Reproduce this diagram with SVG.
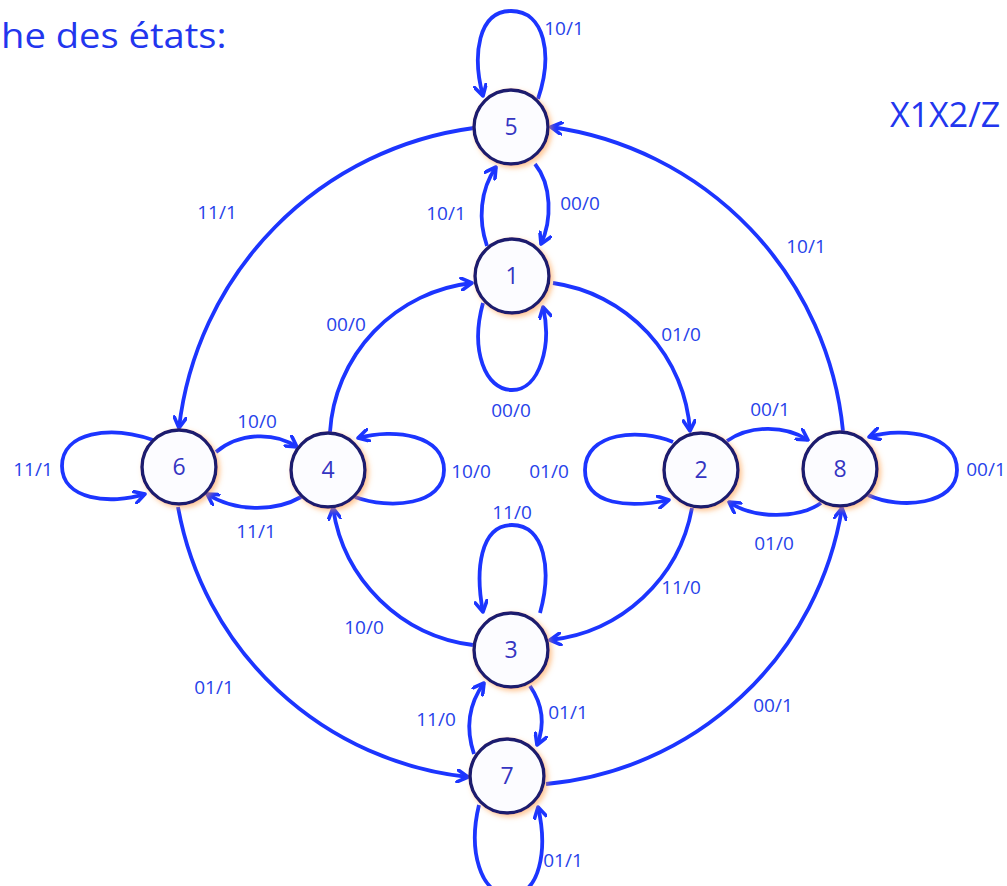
<svg xmlns="http://www.w3.org/2000/svg" width="1007" height="886" viewBox="0 0 1007 886">
  <style>
    .edge { fill: none; stroke: #1c35ff; stroke-width: 3.8; marker-end: url(#arrow); }
    .lbl { font-family: "Open Sans", "Noto Sans", sans-serif; font-size: 19px; fill: #2742ea; text-anchor: middle; }
    .node circle { fill: #fcfcff; stroke: #1b1b6e; stroke-width: 3.4; filter: url(#glow); }
    .node text { font-family: "Open Sans", "Noto Sans", sans-serif; font-size: 23px; fill: #3535c2; text-anchor: middle; }
    .head { font-family: "Open Sans", "Noto Sans", sans-serif; fill: #2236ee; }
  </style>
  <defs>
    <marker id="arrow" viewBox="0 0 14 14" markerWidth="14" markerHeight="14" refX="12" refY="7" orient="auto" markerUnits="userSpaceOnUse">
      <path d="M1.5,1 L12,7 L1.5,13" fill="none" stroke="#1c35ff" stroke-width="3.6" stroke-linecap="round" stroke-linejoin="round"/>
    </marker>
    <filter id="glow" x="-30%" y="-30%" width="170%" height="170%">
      <feDropShadow dx="2.5" dy="2.5" stdDeviation="2.5" flood-color="#ff9a40" flood-opacity="0.55"/>
    </filter>
  </defs>

  <rect width="1007" height="886" fill="#ffffff"/>

  <text class="head" transform="translate(1,48) scale(1.09,1)" font-size="35">he des états:</text>
  <text class="head" x="890" y="127" font-size="34">X1X2/Z</text>

  <g id="connectors">
    <!-- outer ring -->
    <path class="edge" d="M474,128 A342,342 0 0 0 179,428"/>
    <path class="edge" d="M843,431 A340,340 0 0 0 551,127"/>
    <path class="edge" d="M178,507 A330,330 0 0 0 468,777"/>
    <path class="edge" d="M546,784 A330,330 0 0 0 842,508"/>
    <!-- inner ring -->
    <path class="edge" d="M330,432 A160,160 0 0 1 472,283"/>
    <path class="edge" d="M553,283 A160,160 0 0 1 690,431"/>
    <path class="edge" d="M692,508 A162,162 0 0 1 550,640"/>
    <path class="edge" d="M473,645 A162,162 0 0 1 333,508"/>
    <!-- 5 and 1 -->
    <path class="edge" d="M538,99 C553,55 545,11 511,11 C478,11 472,55 483,96"/>
    <path class="edge" d="M487,246 C478,220 480,190 496,167"/>
    <path class="edge" d="M535,164 C552,185 552,220 541,244"/>
    <path class="edge" d="M483,303 C470,350 485,390 512,390 C540,390 552,345 543,307"/>
    <!-- 6 and 4 -->
    <path class="edge" d="M153,440 C110,425 62,432 62,466 C62,500 110,505 145,494"/>
    <path class="edge" d="M216,452 C240,432 275,432 297,447"/>
    <path class="edge" d="M301,497 C275,512 235,512 207,494"/>
    <path class="edge" d="M355,497 C390,510 444,505 444,470 C444,435 395,428 358,438"/>
    <!-- 2 and 8 -->
    <path class="edge" d="M673,442 C640,428 585,432 585,470 C585,506 630,508 669,500"/>
    <path class="edge" d="M727,441 C750,425 785,425 808,440"/>
    <path class="edge" d="M821,503 C800,518 755,520 729,502"/>
    <path class="edge" d="M868,495 C900,510 957,505 957,470 C957,435 905,426 869,437"/>
    <!-- 3 and 7 -->
    <path class="edge" d="M540,613 C552,570 545,525 512,525 C480,525 475,570 483,612"/>
    <path class="edge" d="M530,686 C543,705 545,725 537,745"/>
    <path class="edge" d="M474,754 C466,730 468,705 484,683"/>
    <path class="edge" d="M479,805 C468,850 480,895 510,895 C540,895 548,850 538,807"/>
  </g>

  <g id="labels">
    <text class="lbl" x="564" y="35">10/1</text>
    <text class="lbl" x="217" y="219">11/1</text>
    <text class="lbl" x="446" y="220">10/1</text>
    <text class="lbl" x="580" y="210">00/0</text>
    <text class="lbl" x="806" y="253">10/1</text>
    <text class="lbl" x="346" y="331">00/0</text>
    <text class="lbl" x="681" y="341">01/0</text>
    <text class="lbl" x="511" y="417">00/0</text>
    <text class="lbl" x="257" y="428">10/0</text>
    <text class="lbl" x="770" y="416">00/1</text>
    <text class="lbl" x="33" y="476">11/1</text>
    <text class="lbl" x="471" y="478">10/0</text>
    <text class="lbl" x="549" y="478">01/0</text>
    <text class="lbl" x="986" y="476">00/1</text>
    <text class="lbl" x="256" y="538">11/1</text>
    <text class="lbl" x="774" y="550">01/0</text>
    <text class="lbl" x="512" y="519">11/0</text>
    <text class="lbl" x="681" y="594">11/0</text>
    <text class="lbl" x="364" y="634">10/0</text>
    <text class="lbl" x="214" y="694">01/1</text>
    <text class="lbl" x="568" y="719">01/1</text>
    <text class="lbl" x="436" y="726">11/0</text>
    <text class="lbl" x="773" y="712">00/1</text>
    <text class="lbl" x="563" y="867">01/1</text>
  </g>

  <g id="node-5" class="node"><circle cx="511" cy="127" r="37"/><text x="511" y="135">5</text></g>
  <g id="node-1" class="node"><circle cx="512" cy="276" r="37"/><text x="512" y="284">1</text></g>
  <g id="node-6" class="node"><circle cx="179" cy="467" r="37"/><text x="179" y="475">6</text></g>
  <g id="node-4" class="node"><circle cx="328" cy="470" r="37"/><text x="328" y="478">4</text></g>
  <g id="node-2" class="node"><circle cx="701" cy="470" r="37"/><text x="701" y="478">2</text></g>
  <g id="node-8" class="node"><circle cx="840" cy="469" r="37"/><text x="840" y="477">8</text></g>
  <g id="node-3" class="node"><circle cx="511" cy="650" r="37"/><text x="511" y="658">3</text></g>
  <g id="node-7" class="node"><circle cx="507" cy="776" r="37"/><text x="507" y="784">7</text></g>
</svg>
